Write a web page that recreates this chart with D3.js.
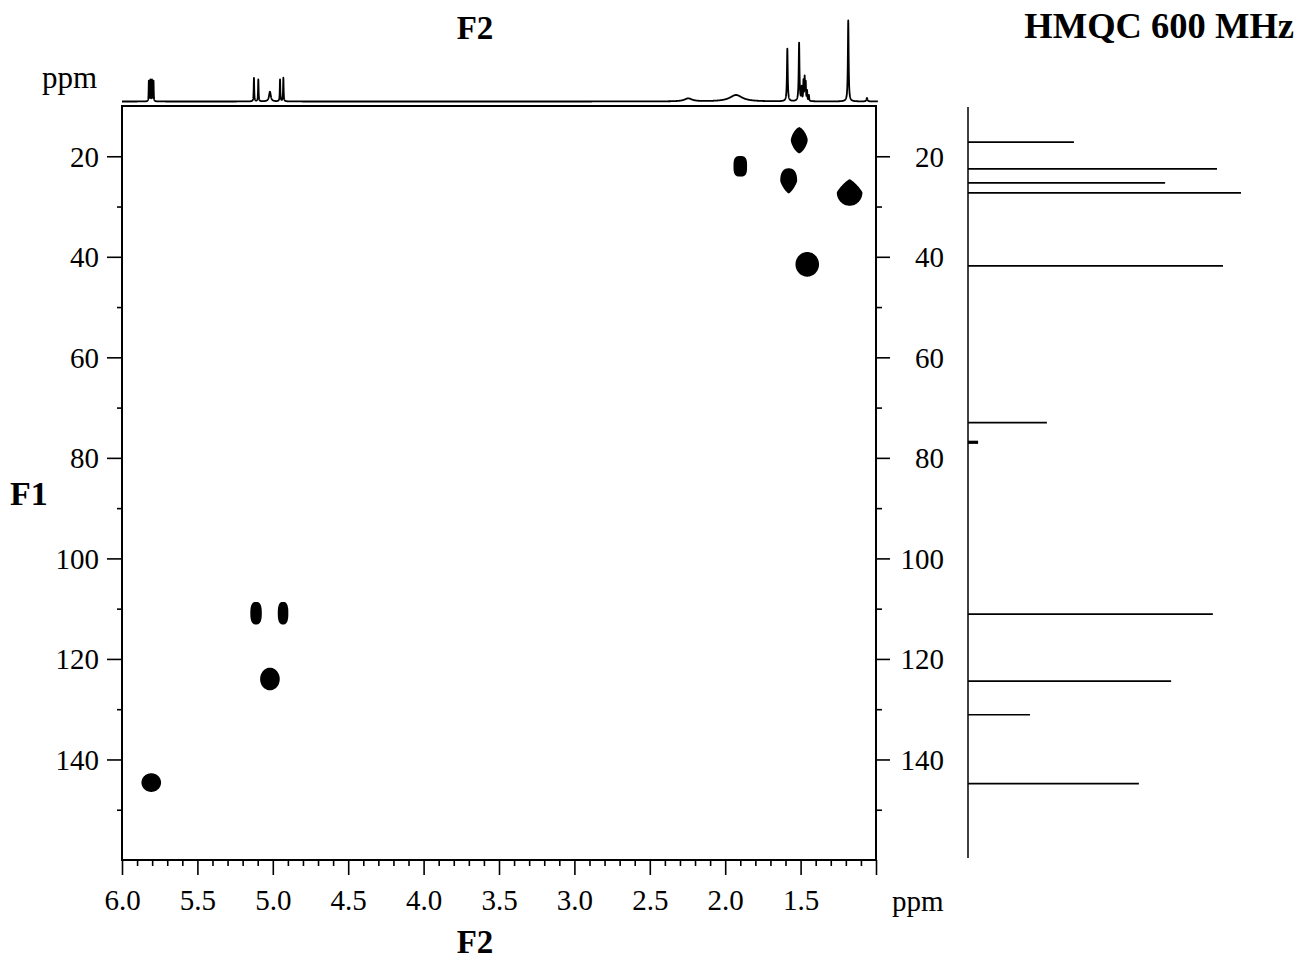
<!DOCTYPE html>
<html>
<head>
<meta charset="utf-8">
<script src="https://cdn.jsdelivr.net/npm/d3@7"></script>
<style>
  html, body { margin: 0; padding: 0; background: #fff; }
  svg { display: block; }
  text { font-family: "Liberation Serif", "Times New Roman", serif; fill: #000; }
</style>
</head>
<body>
<script>
// ---------------- DATA ----------------
// 1H projection (F2): peak positions (ppm), heights (relative), half-widths (ppm)
const hShifts  = [5.822, 5.812, 5.801, 5.791, 5.125, 5.096, 5.019, 4.952, 4.930, 2.245, 1.928, 1.588, 1.510, 1.493, 1.481, 1.473, 1.466, 1.457, 1.445, 1.184, 1.060];
const hHeights = [25, 26, 26, 25, 29, 27, 12, 27, 29, 3.7, 8.0, 65, 72, 16, 24, 28, 22, 12, 7, 100, 4.3];
const hWidths  = [0.0015, 0.0015, 0.0015, 0.0015, 0.002, 0.002, 0.007, 0.002, 0.002, 0.03, 0.05, 0.003, 0.003, 0.002, 0.002, 0.002, 0.002, 0.002, 0.002, 0.003, 0.004];

// 13C projection (F1): shifts (ppm) and relative intensities
const cShifts      = [17.2, 22.5, 25.3, 27.3, 41.8, 73.0, 111.1, 124.4, 131.1, 144.8];
const cIntensities = [38.8, 91.2, 72.2, 100, 93.4, 28.9, 89.7, 74.4, 22.7, 62.6];
const solventShift = [76.9];
const solventIntensity = [3.7];

// HMQC cross peaks: F2 (1H ppm), F1 (13C ppm), half-extent in F2 / F1 (ppm), contour shape exponents (top/bottom)
const crossF2    = [5.806, 5.111, 4.932, 5.019, 1.900, 1.509, 1.579, 1.175, 1.456];
const crossF1    = [144.6, 110.9, 110.9, 124.0, 22.0, 16.8, 24.9, 27.2, 41.5];
const crossHalfW = [0.065, 0.038, 0.035, 0.065, 0.045, 0.056, 0.056, 0.085, 0.078];
const crossHalfH = [1.85, 2.25, 2.25, 2.25, 2.05, 2.6, 2.5, 2.65, 2.45];
const crossTopN  = [2, 2.6, 2.6, 2, 3, 1.5, 2.4, 1.2, 2];
const crossBotN  = [2, 2.6, 2.6, 2, 3, 1.5, 1.3, 2.0, 2];

// Axis ticks
const f2Major = [6.0, 5.5, 5.0, 4.5, 4.0, 3.5, 3.0, 2.5, 2.0, 1.5, 1.0];
const f2Labels = ["6.0", "5.5", "5.0", "4.5", "4.0", "3.5", "3.0", "2.5", "2.0", "1.5", ""];
const f1Major = [20, 40, 60, 80, 100, 120, 140];
const f1Minor = [30, 50, 70, 90, 110, 130, 150];

// ---------------- CHART ----------------
const W = 1300, H = 961;
const svg = d3.select("body").append("svg").attr("width", W).attr("height", H);

const x = d3.scaleLinear().domain([6.0, 1.0]).range([122, 876]);
const y = d3.scaleLinear().domain([10, 160]).range([106, 860]);

// top 1H projection
const yH = d3.scaleLinear().domain([0, 100]).range([101.5, 20.5]);
const step = 0.0005;
const grid = d3.range(6.0, 1.0 + 1e-9 - 0.013, -step);
const spec = grid.map(p => {
  let v = 0;
  for (let i = 0; i < hShifts.length; i++) {
    const d = (p - hShifts[i]) / hWidths[i];
    v += hHeights[i] / (1 + d * d);
  }
  return [p, v];
});
svg.append("path")
  .datum(spec)
  .attr("fill", "none")
  .attr("stroke", "#000")
  .attr("stroke-width", 1.8)
  .attr("stroke-linejoin", "round")
  .attr("d", d3.line().x(d => x(d[0])).y(d => yH(d[1])));

// plot box
svg.append("rect")
  .attr("x", x(6.0)).attr("y", y(10))
  .attr("width", x(1.0) - x(6.0)).attr("height", y(160) - y(10))
  .attr("fill", "none").attr("stroke", "#000").attr("stroke-width", 2);

// cross peaks
function blobPath(cx, cy, rx, ry, nTop, nBot) {
  const pts = [];
  const N = 120;
  for (let k = 0; k < N; k++) {
    const t = (k / N) * 2 * Math.PI;
    const c = Math.cos(t), s = Math.sin(t);
    const n = s < 0 ? nTop : nBot;
    const r = Math.pow(Math.pow(Math.abs(c), n) + Math.pow(Math.abs(s), n), -1 / n);
    pts.push([cx + rx * r * c, cy + ry * r * s]);
  }
  return d3.line().curve(d3.curveLinearClosed)(pts);
}
svg.append("g").selectAll("path")
  .data(crossF2.map((f2, i) => i))
  .join("path")
  .attr("d", i => {
    const cx = x(crossF2[i]), cy = y(crossF1[i]);
    const rx = Math.abs(x(crossF2[i] - crossHalfW[i]) - cx);
    const ry = Math.abs(y(crossF1[i] + crossHalfH[i]) - cy);
    return blobPath(cx, cy, rx, ry, crossTopN[i], crossBotN[i]);
  })
  .attr("fill", "#000");

// axes
function styleAxis(g) {
  g.select(".domain").remove();
  g.selectAll(".tick line").attr("stroke", "#000").attr("stroke-width", 1.6);
  g.selectAll("text").style("font-size", "29px").style("font-family", '"Liberation Serif", serif');
}

// bottom
const bottomMinor = d3.range(5.9, 1.0, -0.1).filter(v => Math.abs(v * 2 - Math.round(v * 2)) > 1e-6);
svg.append("g").attr("transform", `translate(0,${y(160)})`)
  .call(d3.axisBottom(x).tickValues(bottomMinor).tickSize(6).tickFormat(""))
  .call(styleAxis);
svg.append("g").attr("transform", `translate(0,${y(160)})`)
  .call(d3.axisBottom(x).tickValues(f2Major).tickSize(15).tickPadding(14)
    .tickFormat((d, i) => f2Labels[i]))
  .call(styleAxis)
  .call(g => g.selectAll("text").attr("dy", "0.71em"));

// left
svg.append("g").attr("transform", `translate(${x(6.0)},0)`)
  .call(d3.axisLeft(y).tickValues(f1Minor).tickSize(5).tickFormat(""))
  .call(styleAxis);
svg.append("g").attr("transform", `translate(${x(6.0)},0)`)
  .call(d3.axisLeft(y).tickValues(f1Major).tickSize(15).tickPadding(8).tickFormat(d3.format("d")))
  .call(styleAxis)
  .call(g => g.selectAll("text").attr("dy", "0.34em"));

// right
svg.append("g").attr("transform", `translate(${x(1.0)},0)`)
  .call(d3.axisRight(y).tickValues(f1Minor).tickSize(6).tickFormat(""))
  .call(styleAxis);
svg.append("g").attr("transform", `translate(${x(1.0)},0)`)
  .call(d3.axisRight(y).tickValues(f1Major).tickSize(14).tickFormat(d3.format("d")))
  .call(styleAxis)
  .call(g => g.selectAll("text").attr("text-anchor", "end").attr("x", 68).attr("dy", "0.34em"));

// right 13C projection
const xC = d3.scaleLinear().domain([0, 100]).range([968, 1241]);
svg.append("line")
  .attr("x1", xC(0)).attr("x2", xC(0))
  .attr("y1", 107).attr("y2", y(160) - 2)
  .attr("stroke", "#000").attr("stroke-width", 1.5);
svg.append("g").selectAll("line")
  .data(cShifts.map((c, i) => i))
  .join("line")
  .attr("x1", xC(0)).attr("x2", i => xC(cIntensities[i]))
  .attr("y1", i => y(cShifts[i])).attr("y2", i => y(cShifts[i]))
  .attr("stroke", "#000").attr("stroke-width", 1.7);
svg.append("g").selectAll("line")
  .data(solventShift.map((c, i) => i))
  .join("line")
  .attr("x1", xC(0)).attr("x2", i => xC(solventIntensity[i]))
  .attr("y1", i => y(solventShift[i])).attr("y2", i => y(solventShift[i]))
  .attr("stroke", "#000").attr("stroke-width", 3.2);

// labels
svg.append("text").attr("x", 475).attr("y", 39).attr("text-anchor", "middle")
  .style("font-size", "33px").style("font-weight", "bold").text("F2");
svg.append("text").attr("x", 475).attr("y", 953).attr("text-anchor", "middle")
  .style("font-size", "33px").style("font-weight", "bold").text("F2");
svg.append("text").attr("x", 10).attr("y", 505)
  .style("font-size", "34px").style("font-weight", "bold").text("F1");
svg.append("text").attr("x", 1294).attr("y", 38).attr("text-anchor", "end")
  .style("font-size", "36.5px").style("font-weight", "bold").text("HMQC 600 MHz");
svg.append("text").attr("x", 42).attr("y", 88)
  .style("font-size", "31px").text("ppm");
svg.append("text").attr("x", 892).attr("y", 911)
  .style("font-size", "29px").text("ppm");
</script>
</body>
</html>
